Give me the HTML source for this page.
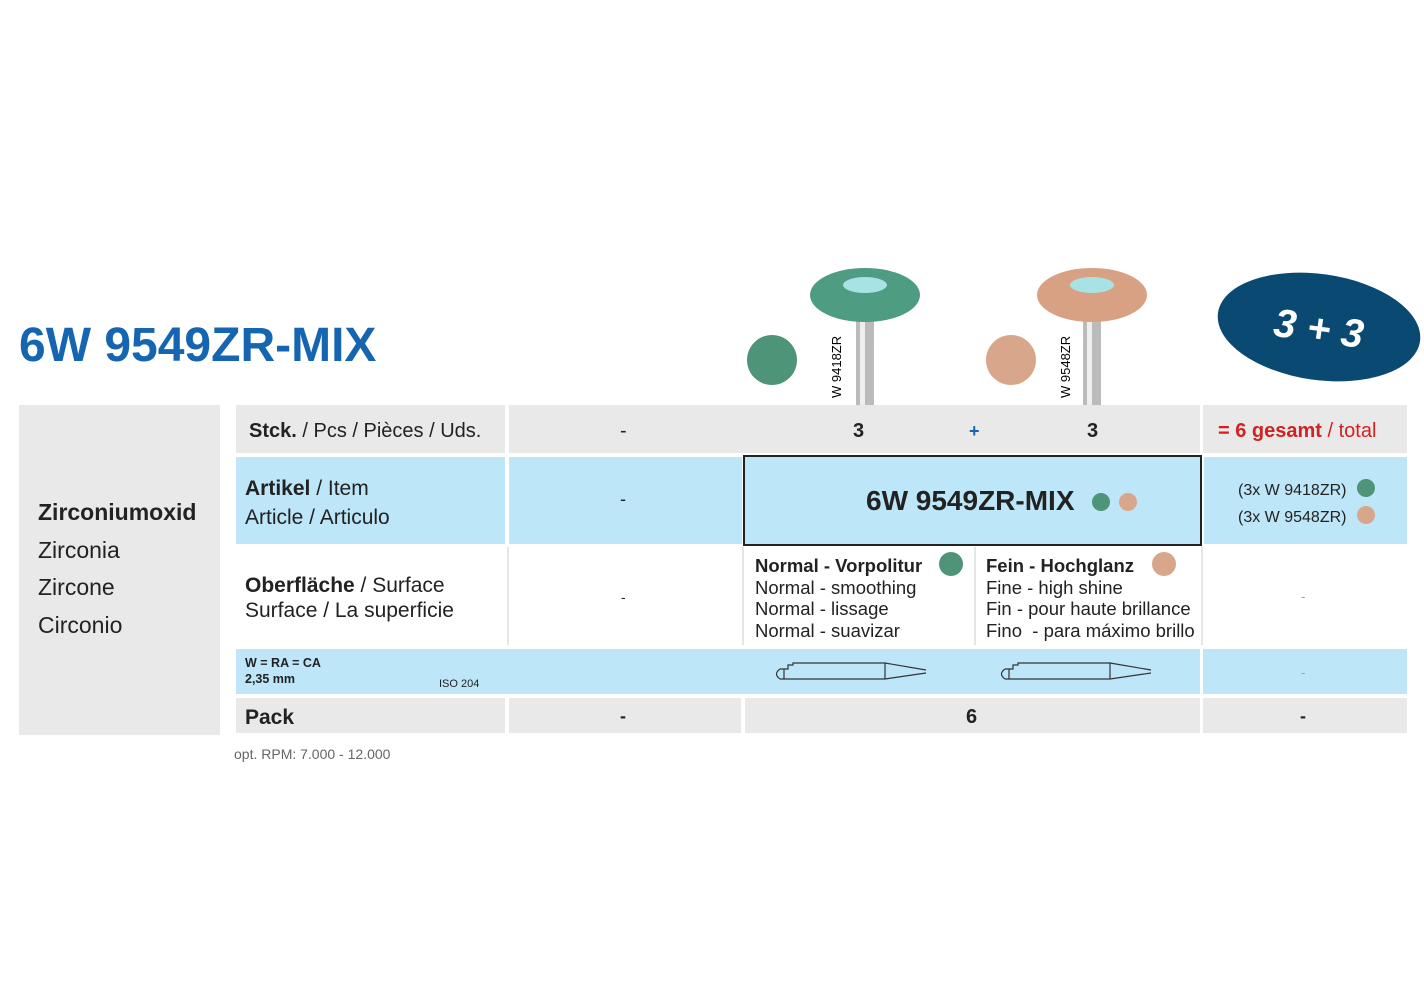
<!DOCTYPE html>
<html><head><meta charset="utf-8"><style>
body{margin:0;width:1424px;height:1000px;background:#fff;position:relative;font-family:"Liberation Sans",sans-serif;color:#222;overflow:hidden}
.a{position:absolute}
.g{background:#e9e9e9}.b{background:#bde6f8}
.t{position:absolute;white-space:nowrap}
</style></head><body>
<div class="t" style="left:19px;top:318px;font-size:48px;font-weight:bold;color:#1565b0">6W 9549ZR-MIX</div>
<svg class="a" style="left:1214px;top:268px" width="210" height="120"><ellipse cx="105" cy="59" rx="102" ry="53" transform="rotate(8 105 59)" fill="#0a4a72"/><text x="105" y="74" font-family="Liberation Sans" font-style="italic" font-weight="bold" font-size="40" fill="#fff" text-anchor="middle" transform="rotate(8 105 59)">3 + 3</text></svg>
<svg class="a" style="left:740px;top:260px" width="440" height="145">
<circle cx="32" cy="100" r="25" fill="#4e9478"/><circle cx="271" cy="100" r="25" fill="#d8a68a"/>
<rect x="116" y="60" width="18" height="85" fill="#bbb"/><rect x="120" y="60" width="5" height="85" fill="#eee"/>
<rect x="343" y="60" width="18" height="85" fill="#bbb"/><rect x="347" y="60" width="5" height="85" fill="#eee"/>
<ellipse cx="125" cy="35" rx="55" ry="27" fill="#4e9c82"/><ellipse cx="125" cy="25" rx="22" ry="8" fill="#a8e2e4"/>
<ellipse cx="352" cy="35" rx="55" ry="27" fill="#d9a184"/><ellipse cx="352" cy="25" rx="22" ry="8" fill="#a8e2e4"/>
<text transform="translate(101 138) rotate(-90)" font-family="Liberation Sans" font-size="13">W 9418ZR</text>
<text transform="translate(330 138) rotate(-90)" font-family="Liberation Sans" font-size="13">W 9548ZR</text>
</svg>
<div class="a g" style="left:19px;top:405px;width:201px;height:330px"></div>
<div class="t" style="left:38px;top:494px;font-size:23px;line-height:37.5px"><b>Zirconiumoxid</b><br>Zirconia<br>Zircone<br>Circonio</div>
<div class="a g" style="left:236px;top:405px;width:269px;height:48px"></div>
<div class="a g" style="left:509px;top:405px;width:691px;height:48px"></div>
<div class="a g" style="left:1203px;top:405px;width:204px;height:48px"></div>
<div class="t" style="left:249px;top:420px;font-size:20px"><b>Stck.</b> / Pcs / Pièces / Uds.</div>
<div class="t" style="left:620px;top:420px;font-size:20px">-</div>
<div class="t" style="left:853px;top:420px;font-size:20px;font-weight:bold">3</div>
<div class="t" style="left:969px;top:421px;font-size:18px;font-weight:bold;color:#1565b0">+</div>
<div class="t" style="left:1087px;top:420px;font-size:20px;font-weight:bold">3</div>
<div class="t" style="left:1218px;top:420px;font-size:20px;color:#d42020"><b>= 6 gesamt</b> / total</div>
<div class="a b" style="left:236px;top:457px;width:269px;height:87px"></div>
<div class="a b" style="left:509px;top:457px;width:233px;height:87px"></div>
<div class="a b" style="left:743px;top:455px;width:455px;height:87px;border:2px solid #222"></div>
<div class="a b" style="left:1204px;top:457px;width:203px;height:87px"></div>
<div class="t" style="left:245px;top:474px;font-size:21px;line-height:29px"><b>Artikel</b> / Item<br>Article / Articulo</div>
<div class="t" style="left:620px;top:489px;font-size:18px">-</div>
<div class="t" style="left:866px;top:485px;font-size:28px;font-weight:bold">6W 9549ZR-MIX</div>
<svg class="a" style="left:1090px;top:490px" width="50" height="24"><circle cx="11" cy="12" r="9" fill="#4e9478"/><circle cx="38" cy="12" r="9" fill="#d8a68a"/></svg>
<div class="t" style="left:1238px;top:477px;font-size:16px;line-height:27px">(3x W 9418ZR)<br>(3x W 9548ZR)</div>
<svg class="a" style="left:1355px;top:478px" width="24" height="50"><circle cx="11" cy="10" r="9" fill="#4e9478"/><circle cx="11" cy="37" r="9" fill="#d8a68a"/></svg>
<div class="a" style="left:507px;top:547px;width:2px;height:98px;background:#e6e6e6"></div>
<div class="a" style="left:742px;top:547px;width:2px;height:98px;background:#e6e6e6"></div>
<div class="a" style="left:974px;top:547px;width:2px;height:98px;background:#e6e6e6"></div>
<div class="a" style="left:1201px;top:547px;width:2px;height:98px;background:#e6e6e6"></div>
<div class="t" style="left:245px;top:573px;font-size:21px;line-height:25px"><b>Oberfläche</b> / Surface<br>Surface / La superficie</div>
<div class="t" style="left:621px;top:589px;font-size:14px">-</div>
<div class="t" style="left:755px;top:555px;font-size:18.5px;line-height:21.5px"><b>Normal - Vorpolitur</b><br>Normal - smoothing<br>Normal - lissage<br>Normal - suavizar</div>
<div class="t" style="left:986px;top:555px;font-size:18.5px;line-height:21.5px"><b>Fein - Hochglanz</b><br>Fine - high shine<br>Fin - pour haute brillance<br>Fino &nbsp;- para máximo brillo</div>
<svg class="a" style="left:936px;top:552px" width="240" height="26"><circle cx="15" cy="12" r="12" fill="#4e9478"/><circle cx="228" cy="12" r="12" fill="#d8a68a"/></svg>
<div class="t" style="left:1301px;top:589px;font-size:13px;color:#999">-</div>
<div class="a b" style="left:236px;top:649px;width:964px;height:45px"></div>
<div class="a b" style="left:1203px;top:649px;width:204px;height:45px"></div>
<div class="t" style="left:245px;top:655px;font-size:12.5px;font-weight:bold;line-height:16px">W = RA = CA<br>2,35 mm</div>
<div class="t" style="left:439px;top:678px;font-size:11px">ISO 204</div>
<div class="t" style="left:1301px;top:665px;font-size:13px;color:#d88">-</div>
<svg class="a" style="left:760px;top:655px" width="420" height="35" fill="none" stroke="#333" stroke-width="1.2">
<g><path d="M20 14 L28 14 L28 10 L33 10 L33 8 L125 8 L125 24 L20 24 M125 8 L166 15 M125 24 L166 18 M20 14 Q13 19 20 24 M24 14 L24 24"/></g>
<g transform="translate(225 0)"><path d="M20 14 L28 14 L28 10 L33 10 L33 8 L125 8 L125 24 L20 24 M125 8 L166 15 M125 24 L166 18 M20 14 Q13 19 20 24 M24 14 L24 24"/></g>
</svg>
<div class="a g" style="left:236px;top:698px;width:269px;height:35px"></div>
<div class="a g" style="left:509px;top:698px;width:232px;height:35px"></div>
<div class="a g" style="left:745px;top:698px;width:455px;height:35px"></div>
<div class="a g" style="left:1203px;top:698px;width:204px;height:35px"></div>
<div class="t" style="left:245px;top:706px;font-size:21px;font-weight:bold">Pack</div>
<div class="t" style="left:620px;top:706px;font-size:18px;font-weight:bold">-</div>
<div class="t" style="left:966px;top:706px;font-size:20px;font-weight:bold">6</div>
<div class="t" style="left:1300px;top:706px;font-size:18px;font-weight:bold">-</div>
<div class="t" style="left:234px;top:746px;font-size:14px;color:#666">opt. RPM: 7.000 - 12.000</div>
</body></html>
